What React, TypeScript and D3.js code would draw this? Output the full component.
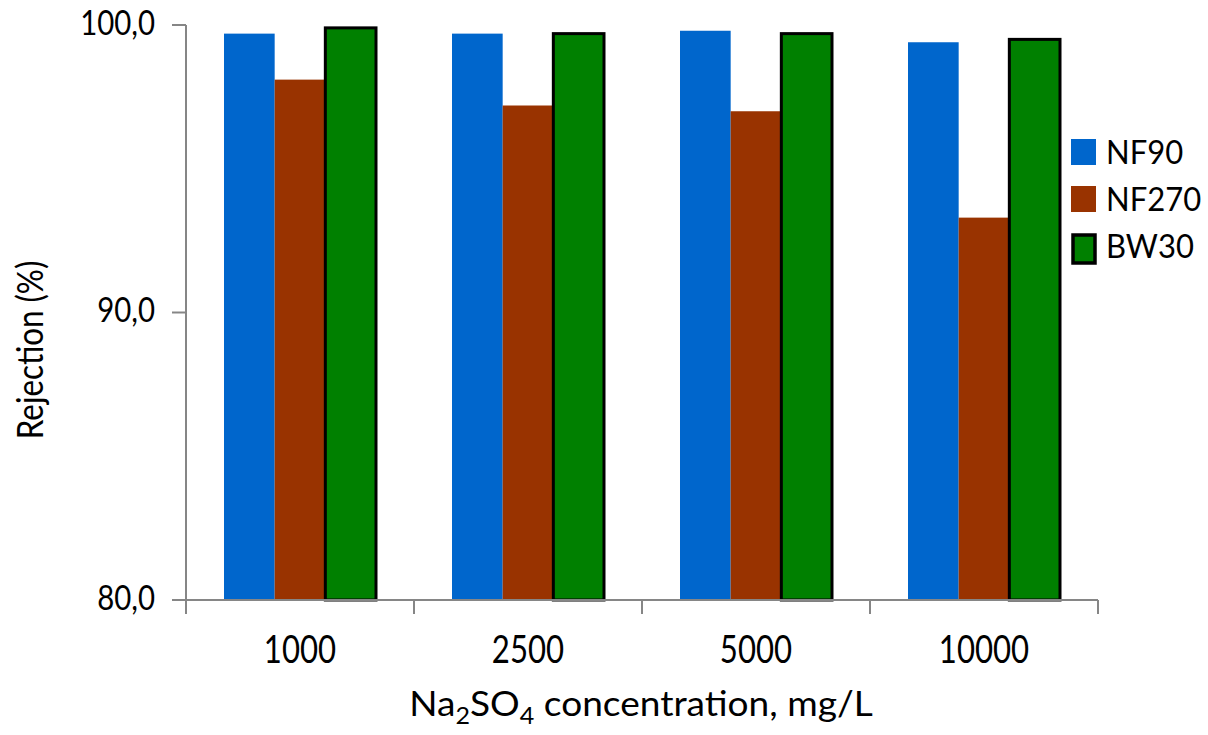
import React from "react";
import * as d3 from "d3";

const categories = ["1000", "2500", "5000", "10000"];
const seriesNames = ["NF90", "NF270", "BW30"];
const nf90 = [99.7, 99.7, 99.8, 99.4];
const nf270 = [98.1, 97.2, 97.0, 93.3];
const bw30 = [99.9, 99.7, 99.7, 99.5];
const yTicks = [80, 90, 100];
const colors = ["#0066CC", "#993300", "#008000"];

const W = 1208, H = 735;
const left = 186, right = 1098, top = 25, bottom = 600;
const FONT = "Lato, 'Open Sans', sans-serif";

function T({ x, y, size, sx = 1, anchor = "start", rotate = 0, children }: any) {
  return (
    <text
      transform={`translate(${x},${y}) rotate(${rotate}) scale(${sx},1)`}
      textAnchor={anchor}
      fontFamily={FONT}
      fontSize={size}
      fill="#000"
    >
      {children}
    </text>
  );
}

export default function App() {
  const series = [nf90, nf270, bw30];
  const x0 = d3.scaleBand().domain(categories).range([left, right]).paddingInner(0).paddingOuter(0);
  const groupW = x0.bandwidth();
  const barW = groupW / (3 + 1.5);
  const y = d3.scaleLinear().domain([80, 100]).range([bottom, top]);
  const fmt = (v: number) => d3.format(".1f")(v).replace(".", ",");

  return (
    <svg width={W} height={H} style={{ display: "block", position: "absolute", left: 0, top: 0 }}>
      <rect width={W} height={H} fill="#fff" />
      {categories.map((c, i) => (
        <g key={c}>
          {series.map((s, j) => {
            const bx = (x0(c) as number) + barW * 0.75 + j * barW;
            const isBW = j === 2;
            return (
              <rect
                key={j}
                x={bx}
                y={y(s[i])}
                width={barW}
                height={bottom - y(s[i])}
                fill={colors[j]}
                stroke={isBW ? "#000" : "none"}
                strokeWidth={isBW ? 3 : 0}
              />
            );
          })}
        </g>
      ))}
      {/* y axis */}
      <line x1={left} x2={left} y1={top} y2={bottom + 14} stroke="#868686" strokeWidth={2} />
      {yTicks.map((t) => (
        <g key={t}>
          <line x1={left - 14} x2={left} y1={y(t)} y2={y(t)} stroke="#868686" strokeWidth={2} />
          <T x={155} y={y(t) + 9.5} size={35} sx={0.84} anchor="end">
            {fmt(t)}
          </T>
        </g>
      ))}
      {/* x axis */}
      <line x1={left} x2={right} y1={bottom} y2={bottom} stroke="#868686" strokeWidth={2} />
      {categories.map((c) => (
        <g key={c}>
          <line x1={(x0(c) as number) + groupW} x2={(x0(c) as number) + groupW} y1={bottom} y2={bottom + 14} stroke="#868686" strokeWidth={2} />
          <T x={(x0(c) as number) + groupW / 2} y={663} size={38} sx={0.82} anchor="middle">
            {c}
          </T>
        </g>
      ))}
      {/* axis titles */}
      <T x={641} y={716} size={34} sx={1.09} anchor="middle">
        Na<tspan fontSize={23} dy={8}>2</tspan>
        <tspan dy={-8}>SO</tspan>
        <tspan fontSize={23} dy={8}>4</tspan>
        <tspan dy={-8}> concentration, mg/L</tspan>
      </T>
      <T x={43} y={350} size={36} sx={0.87} rotate={-90} anchor="middle">
        Rejection (%)
      </T>
      {/* legend */}
      {seriesNames.map((n, j) => {
        const ly = 139 + j * 47;
        return (
          <g key={n}>
            <rect
              x={j === 2 ? 1073 : 1071}
              y={j === 2 ? ly + 2 : ly}
              width={j === 2 ? 22 : 25}
              height={j === 2 ? 28 : 26}
              fill={colors[j]}
              stroke={j === 2 ? "#000" : "none"}
              strokeWidth={j === 2 ? 3.5 : 0}
            />
            <T x={1106} y={ly + 25} size={33} sx={0.94}>
              {n}
            </T>
          </g>
        );
      })}
    </svg>
  );
}
